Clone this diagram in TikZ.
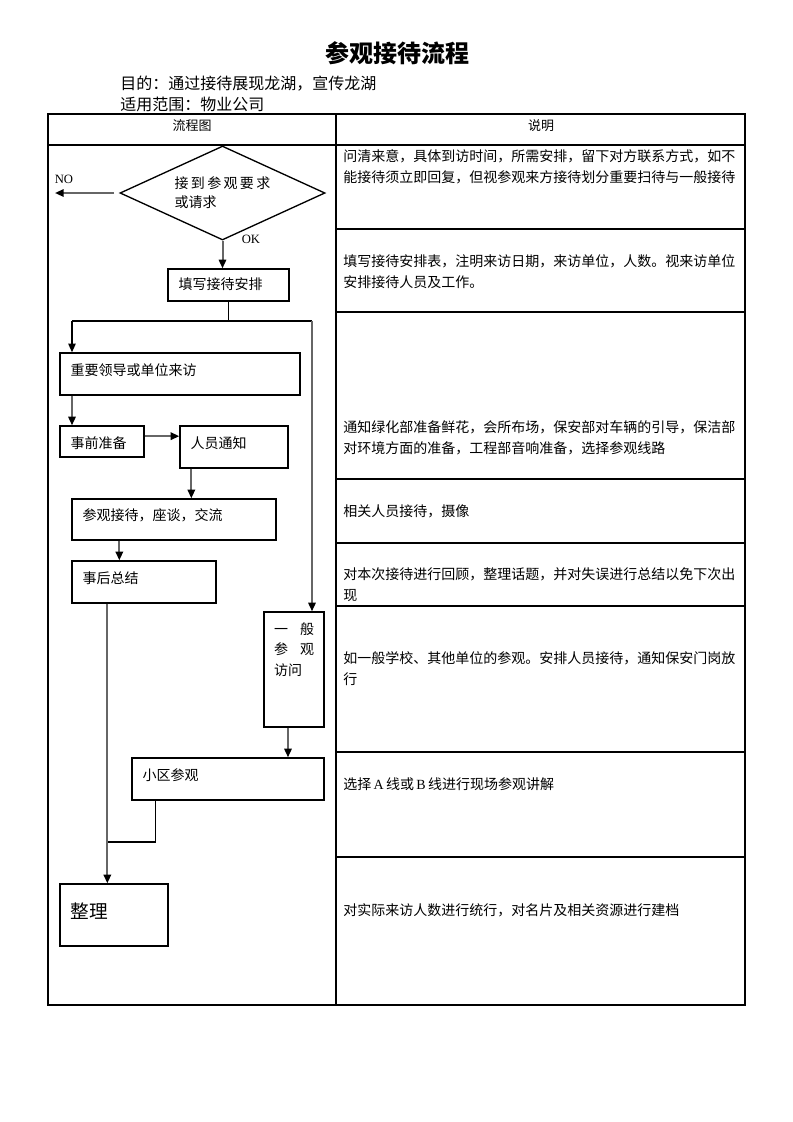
\documentclass[tikz,border=0pt]{standalone}
\usepackage{fontspec}
\setmainfont{Liberation Serif}
\newfontfamily\cjk{Noto Sans CJK SC}
\usetikzlibrary{shapes.geometric,arrows.meta}
\newcommand\bodyfont{\cjk\fontsize{10.5pt}{15.75pt}\selectfont}

\begin{document}
\begin{tikzpicture}[x=0.75pt,y=-0.75pt,
    stepbox/.style={draw, line width=1pt, align=left, inner xsep=8pt, inner ysep=0pt, text height=8pt, text depth=6.5pt, font=\bodyfont},
    note/.style={anchor=base west, inner sep=0pt, text width=296pt, align=left, font=\bodyfont},
    flow/.style={draw=black!60, line width=1.5pt, -{Triangle[length=6.5pt,width=5.5pt,color=black]}},
    link/.style={draw=black, line width=1pt}]
        \useasboundingbox (0,0) rectangle (793,1122);
        % Title and heading lines
        \node[font={\cjk\bfseries\fontsize{18pt}{22pt}\selectfont}] (title) at (397,53) {参观接待流程};
        \node[anchor=base west, inner sep=0pt, font={\cjk\fontsize{12pt}{14pt}\selectfont}] (purpose) at (120,89) {目的：通过接待展现龙湖，宣传龙湖};
        \node[anchor=base west, inner sep=0pt, font={\cjk\fontsize{12pt}{14pt}\selectfont}] (scope) at (120,110) {适用范围：物业公司};

        % Table frame
        \draw[link] (48,114) rectangle (745,1005);
        \draw[link] (336,114) -- (336,1005);
        \draw[link] (48,145) -- (745,145);
        \foreach \y in {229,312,479,543,606,752,857}
            \draw[link] (336,\y) -- (745,\y);
        \node[font={\cjk\fontsize{9.75pt}{12pt}\selectfont}] (chart_head) at (192,126) {流程图};
        \node[font={\cjk\fontsize{9.75pt}{12pt}\selectfont}] (note_head) at (541,126) {说明};

        % Define nodes
        \node (ask) [diamond, draw, line width=1pt, aspect=2.18, minimum width=153.75pt, minimum height=70.5pt, inner sep=0pt, align=left, font={\cjk\fontsize{10.5pt}{14.25pt}\selectfont}] at (222.5,193) {接\,到\,参\,观\,要\,求\\或请求};
        \coordinate (no_end) at (55,193);
        \node (no_label) [font=\fontsize{9.5pt}{11pt}\selectfont] at (64,179) {NO};
        \node (ok_label) [font=\fontsize{9.5pt}{11pt}\selectfont] at (251,239) {OK};
        \node (fill) [stepbox, text width=74.75pt, minimum height=24pt, text height=9pt, text depth=2pt] at (228.5,285) {填写接待安排};
        \coordinate (split) at (228.5,321);
        \coordinate (to_vip) at (72,321);
        \coordinate (to_gen) at (312,321);
        \node (vip) [stepbox, text width=164pt, minimum height=31.5pt] at (180,374) {重要领导或单位来访};
        \node (prep) [stepbox, text width=47pt, minimum height=23.25pt, text height=12pt, text depth=2pt] at (102,441.5) {事前准备};
        \node (notify) [stepbox, text width=65pt, minimum height=31.5pt] at (234,447) {人员通知};
        \node (talk) [stepbox, text width=137pt, minimum height=30.75pt] at (174,519.5) {参观接待，座谈，交流};
        \node (summ) [stepbox, text width=92pt, minimum height=31.5pt] at (144,582) {事后总结};
        \node (gen) [stepbox, inner xsep=7.5pt, text width=30pt, minimum height=86.25pt, text depth=61.25pt, font={\cjk\fontsize{10.5pt}{15.4pt}\selectfont}] at (294,669.5) {一\hfill 般\\参\hfill 观\\访问};
        \node (tour) [stepbox, text width=128pt, minimum height=31.5pt] at (228,779) {小区参观};
        \coordinate (merge) at (108,842);
        \node (tidy) [stepbox, text width=65pt, minimum height=46.5pt, text height=10pt, text depth=4.5pt, font={\cjk\fontsize{14pt}{16pt}\selectfont}] at (114,915) {整理};

        % Notes
        \node (ask_note) [note] at (343,161) {问清来意，具体到访时间，所需安排，留下对方联系方式，如不\\能接待须立即回复，但视参观来方接待划分重要扫待与一般接待};
        \node (fill_note) [note] at (343,266) {填写接待安排表，注明来访日期，来访单位，人数。视来访单位\\安排接待人员及工作。};
        \node (prep_note) [note] at (343,432) {通知绿化部准备鲜花，会所布场，保安部对车辆的引导，保洁部\\对环境方面的准备，工程部音响准备，选择参观线路};
        \node (talk_note) [note] at (343,516) {相关人员接待，摄像};
        \node (summ_note) [note] at (343,579) {对本次接待进行回顾，整理话题，并对失误进行总结以免下次出\\现};
        \node (gen_note) [note] at (343,663) {如一般学校、其他单位的参观。安排人员接待，通知保安门岗放\\行};
        \node (tour_note) [note] at (343,789) {选择\,{\rmfamily A}\,线或\,{\rmfamily B}\,线进行现场参观讲解};
        \node (tidy_note) [note] at (343,915) {对实际来访人数进行统行，对名片及相关资源进行建档};

        % Draw arrows
        \draw[flow] ([xshift=-4pt]ask.west) -- (no_end);
        \draw[flow] (ask.south) -- (ask.south |- fill.north);
        \draw[link] (fill.south) -- (split);
        \draw[link] (to_vip) -- (to_gen);
        \draw[flow, draw=black, line width=1pt] (to_vip) -- (to_vip |- vip.north);
        \draw[flow] (to_gen) -- (to_gen |- gen.north);
        \draw[flow] (to_vip |- vip.south) -- (to_vip |- prep.north);
        \draw[flow] ([yshift=4pt]prep.east) -- ([yshift=4pt]prep.east -| notify.west);
        \draw[flow] ([xshift=9pt]notify.south west) -- ([xshift=9pt]notify.south west |- talk.north);
        \draw[flow] ([xshift=36pt]talk.south west) -- ([xshift=36pt]talk.south west |- summ.north);
        \draw[flow] ([xshift=27pt]summ.south west) -- ([xshift=27pt]summ.south west |- tidy.north);
        \draw[flow] ([xshift=-4.5pt]gen.south) -- ([xshift=-4.5pt]gen.south |- tour.north);
        \draw[link] ([xshift=18pt]tour.south west) |- (merge);
    \end{tikzpicture}
\end{document}
